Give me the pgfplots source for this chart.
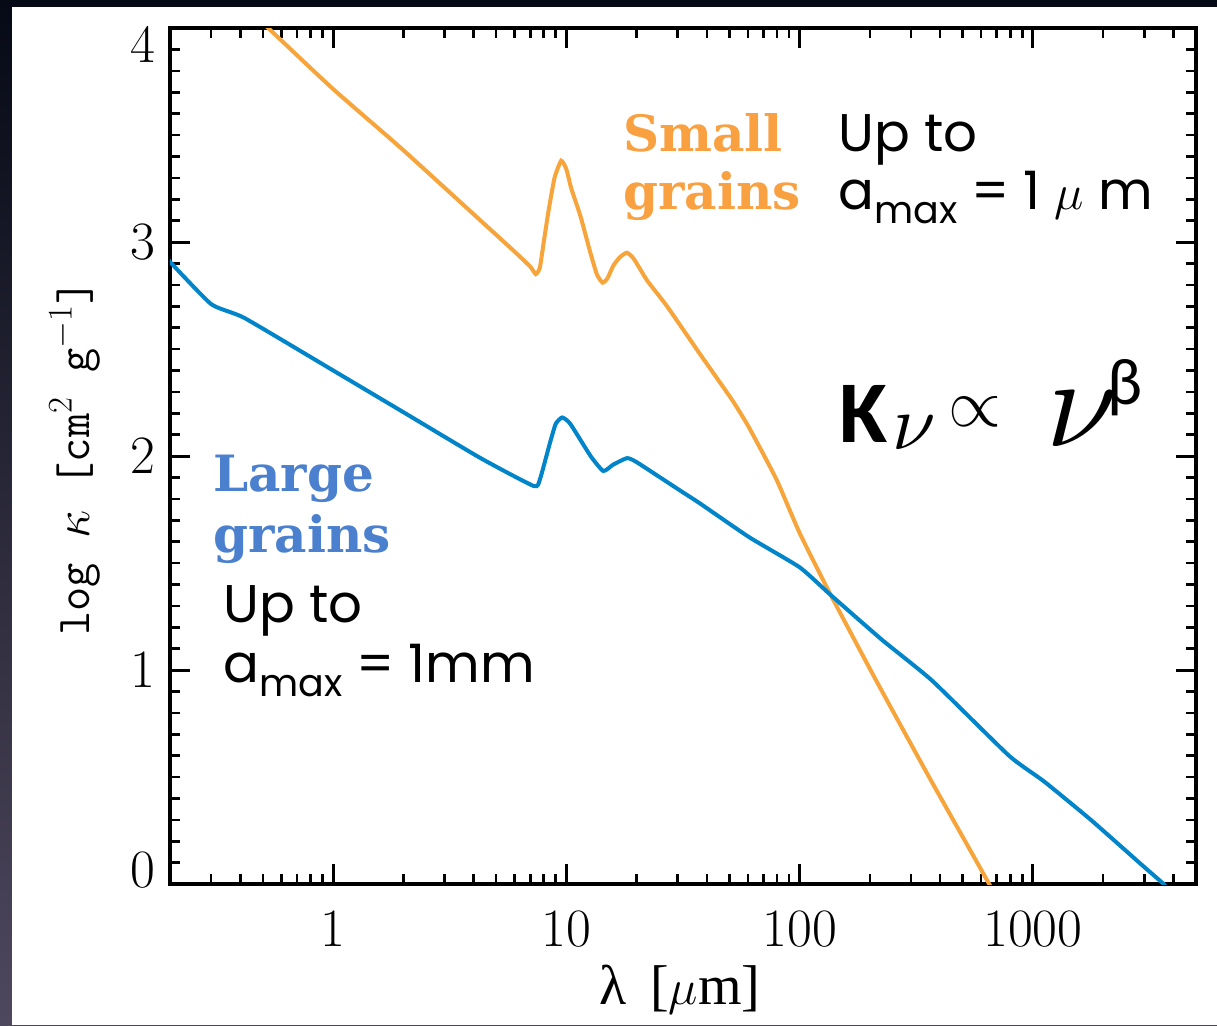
\documentclass[border=0pt]{standalone}
\usepackage{fontspec}
\usepackage{graphicx}
\usepackage{pgfplots}
\pgfplotsset{compat=1.18}
\newfontfamily\pop{Poppins}
\newfontfamily\carl{Carlito}
\newfontfamily\slab{DejaVu Serif}
\newfontfamily\lib{Liberation Serif}
\definecolor{orng}{RGB}{247,164,59}
\definecolor{blu}{RGB}{0,133,202}
\definecolor{orngtxt}{RGB}{249,160,64}
\definecolor{blutxt}{RGB}{74,128,206}
\definecolor{bgtop}{RGB}{6,9,22}
\definecolor{bgbot}{RGB}{78,72,92}

\pgfplotstableread{
x y
0.45 4.07
0.527 4.00
1.0 3.715
1.95 3.44
4.29 3.10
6.0 2.955
7.0 2.885
7.4 2.85
7.7 2.88
8.0 3.00
8.4 3.15
8.9 3.30
9.5 3.38
10.0 3.34
10.5 3.25
11.5 3.12
12.6 2.96
13.5 2.85
14.3 2.81
15.0 2.83
15.9 2.89
17.0 2.93
18.2 2.95
19.5 2.92
22.2 2.82
27.0 2.70
37.2 2.48
51.5 2.26
60.9 2.13
79.6 1.89
100 1.64
136 1.35
213 0.95
363 0.49
649 0.00
700 -0.08
}\small

\pgfplotstableread{
x y
0.195 2.92
0.30 2.71
0.417 2.645
1.0 2.40
2.0 2.205
4.29 1.99
7.24 1.86
7.7 1.89
8.5 2.06
9.0 2.15
9.6 2.18
10.4 2.15
12.7 2.00
14.4 1.93
15.9 1.96
18.2 1.99
20.1 1.97
30.6 1.84
37.2 1.78
60.9 1.62
100 1.48
136 1.35
226 1.14
370 0.95
789 0.60
1114 0.48
1770 0.30
2924 0.09
3630 0.00
4000 -0.06
}\large

\begin{document}
\begin{tikzpicture}
\useasboundingbox (0,0) rectangle (608.5pt,512.5pt);
\shade[top color=bgtop, bottom color=bgbot] (0,0) rectangle (608.5pt,512.5pt);
\fill[white] (6pt,0) rectangle (608.5pt,509pt);
\begin{axis}[
  at={(85pt,70.5pt)}, anchor=south west,
  scale only axis, width=513pt, height=428pt,
  xmode=log, xmin=0.2, xmax=5000, ymin=0, ymax=4,
  xtick={1,10,100,1000}, xticklabels={1,10,100,1000},
  minor xtick={0.3,0.4,0.5,0.6,0.7,0.8,0.9,2,3,4,5,6,7,8,9,20,30,40,50,60,70,80,90,200,300,400,500,600,700,800,900,2000,3000,4000},
  ytick={0,1,2,3,4},
  yticklabels={\raisebox{7pt}[\height][\depth]{0},1,2,3,\raisebox{-8pt}[\height][\depth]{4}},
  minor y tick num=9,
  axis line style={line width=2pt},
  major tick length=10pt, minor tick length=5pt,
  major tick style={line width=1.5pt, black},
  minor tick style={line width=1.3pt, black},
  tick label style={font=\fontsize{27}{30}\selectfont},
  xticklabel style={yshift=-10pt},
  yticklabel style={xshift=-4pt},
]
\addplot[orng, line width=2pt, smooth, tension=0.3] table[x=x,y=y] {\small};
\addplot[blu, line width=2pt, smooth, tension=0.3] table[x=x,y=y] {\large};
\end{axis}

% y label and x label
\node[rotate=90, font=\ttfamily\fontsize{23.5}{23.5}\selectfont] at (37.5pt,283.5pt) {log\ $\kappa$\ [cm$^2$\ g$^{-1}$]};
\node[font=\lib\fontsize{28}{28}\selectfont] at (340pt,17.5pt) {λ\ \,[$\mu$m]};

% annotations
\begin{scope}[every node/.style={inner sep=0pt, anchor=base west}]
\node[text=orngtxt, font=\slab\bfseries\fontsize{25}{25}\selectfont] at (311.5pt,436.5pt) {Small};
\node[text=orngtxt, font=\slab\bfseries\fontsize{25}{25}\selectfont] at (311.5pt,407.5pt) {grains};
\node[font=\pop\fontsize{26.5}{26.5}\selectfont] at (419pt,436.5pt) {Up to};
\node[font=\pop\fontsize{26.5}{26.5}\selectfont] at (419pt,407.5pt) {a\raisebox{-7pt}{\fontsize{19}{19}\selectfont max} = 1 $\mu$ m};

\node[text=blutxt, font=\slab\bfseries\fontsize{25}{25}\selectfont] at (106.5pt,266.5pt) {Large};
\node[text=blutxt, font=\slab\bfseries\fontsize{25}{25}\selectfont] at (106.5pt,236.5pt) {grains};
\node[font=\pop\fontsize{26.5}{26.5}\selectfont] at (111.5pt,201.5pt) {Up to};
\node[font=\pop\fontsize{26.5}{26.5}\selectfont] at (111.5pt,171.5pt) {a\raisebox{-7pt}{\fontsize{19}{19}\selectfont max} = 1mm};

\node[font=\carl\bfseries\fontsize{44}{44}\selectfont] at (419.5pt,291pt) {K};
\node at (446pt,287.5pt) {\scalebox{3.9}{$\nu$}};
\node at (523pt,289pt) {\scalebox{6.4}{$\nu$}};
\node[font=\carl\fontsize{33}{33}\selectfont] at (553.5pt,310pt) {β};
\end{scope}
\node[inner sep=0pt] at (487.5pt,306.5pt) {\scalebox{3.4}{$\propto$}};
\end{tikzpicture}
\end{document}
